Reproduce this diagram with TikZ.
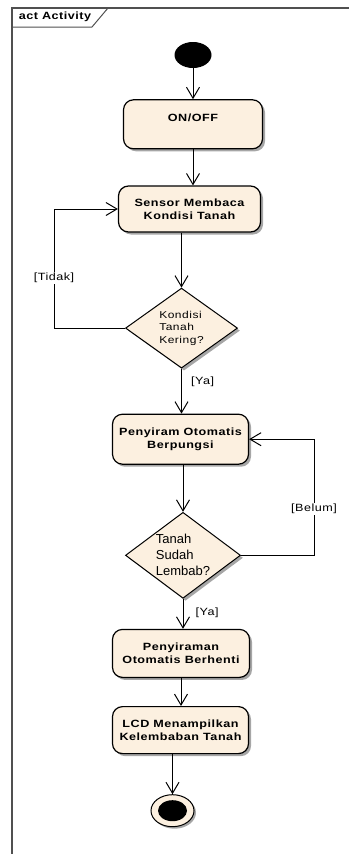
\documentclass[tikz,border=0pt]{standalone}
\usepackage{fontspec}
\usepackage{tikz}
\usetikzlibrary{positioning, shapes.geometric, arrows.meta, shadows}
\newfontfamily\eafont[FakeStretch=1.2, LetterSpace=5]{Liberation Sans}
\newfontfamily\eaplain{Liberation Sans}
\definecolor{actFill}{RGB}{252,240,224}
\definecolor{frameColor}{RGB}{80,80,80}
\tikzset{
    actnode/.style={
        rectangle,
        rounded corners=10pt,
        draw,
        line width=1.2pt,
        fill=actFill,
        drop shadow={shadow xshift=2.5pt, shadow yshift=-2.5pt, fill=black!35, opacity=1},
        font=\eafont\bfseries\fontsize{10.5}{13.5}\selectfont,
        align=center,
        inner sep=0pt
    },
    decnode/.style={
        diamond,
        aspect=1.4,
        draw,
        line width=1pt,
        fill=actFill,
        drop shadow={shadow xshift=2.5pt, shadow yshift=-2.5pt, fill=black!35, opacity=1},
        align=left,
        inner sep=0pt
    },
    ptr/.style={
        -{Straight Barb[length=11pt, width=13pt]},
        line width=1pt
    },
    guard/.style={
        font=\eafont\fontsize{10.5}{12}\selectfont,
        inner sep=1pt
    }
}

\begin{document}
\begin{tikzpicture}[x=1pt, y=1pt]
        \useasboundingbox (0,0) rectangle (349,-854);
        % frame
        \draw[frameColor, line width=1.2pt] (12,-854) -- (12,-8) -- (349,-8);
        \draw[frameColor, line width=1pt] (12,-27) -- (92,-27) -- (108,-8);
        \node[font=\eafont\bfseries\fontsize{10.5}{12}\selectfont] (title) at (55,-17) {act Activity};

        \node[ellipse, fill=black, minimum width=37pt, minimum height=26pt, inner sep=0pt] (start) at (193,-55) {};
        \node[actnode, minimum width=139pt, minimum height=49pt, below=31pt of start] (on) {ON/OFF\\\mbox{}};
        \node[actnode, minimum width=142pt, minimum height=46pt, below=36pt of on, xshift=-3.5pt] (sensor) {Sensor Membaca\\Kondisi Tanah};
        \node[decnode, minimum width=112pt, minimum height=80pt, below=55pt of sensor, xshift=-8pt,
              font=\eafont\fontsize{10}{12.5}\selectfont] (d1) {Kondisi\\Tanah\\Kering?};
        \node[actnode, minimum width=136pt, minimum height=50pt, below=45pt of d1, xshift=-1pt] (penyiram) {Penyiram Otomatis\\Berpungsi};
        \node[decnode, minimum width=115pt, minimum height=86pt, below=47pt of penyiram, xshift=2.5pt,
              font=\eaplain\fontsize{13}{16}\selectfont] (d2) {Tanah\\Sudah\\Lembab?};
        \node[actnode, minimum width=137pt, minimum height=48pt, below=30pt of d2, xshift=-2pt] (penyiraman) {Penyiraman\\Otomatis Berhenti};
        \node[actnode, minimum width=136pt, minimum height=47pt, below=28pt of penyiraman, xshift=-0.5pt] (lcd) {LCD Menampilkan\\Kelembaban Tanah};
        \node[ellipse, draw, line width=1pt, fill=actFill, minimum width=43pt, minimum height=32pt, inner sep=0pt,
              drop shadow={shadow xshift=2pt, shadow yshift=-2pt, fill=black!35, opacity=1},
              below=40pt of lcd, xshift=-8pt] (final) {};
        \node[ellipse, fill=black, minimum width=29pt, minimum height=21pt, inner sep=0pt] (finaldot) at (final) {};

        \draw[ptr] (start) -- (on);
        \draw[ptr] (on.south) -- (on.south |- sensor.north);
        \draw[ptr] (d1.north |- sensor.south) -- (d1.north);
        \draw[ptr] (d1.west) -- ++(-71,0) |- (sensor.west) node[guard, fill=white, pos=0.21] {[Tidak]};
        \draw[ptr] (d1.south) -- (d1.south |- penyiram.north) node[guard, right, pos=0.3, xshift=8pt] {[Ya]};
        \draw[ptr] (d2.north |- penyiram.south) -- (d2.north);
        \draw[ptr] (d2.east) -- ++(73,0) |- (penyiram.east) node[guard, fill=white, pos=0.2] {[Belum]};
        \draw[ptr] (d2.south) -- (d2.south |- penyiraman.north) node[guard, right, pos=0.47, xshift=11pt] {[Ya]};
        \draw[ptr] (penyiraman.south) -- (penyiraman.south |- lcd.north);
        \draw[ptr] (final.north |- lcd.south) -- (final.north);
    \end{tikzpicture}
\end{document}
